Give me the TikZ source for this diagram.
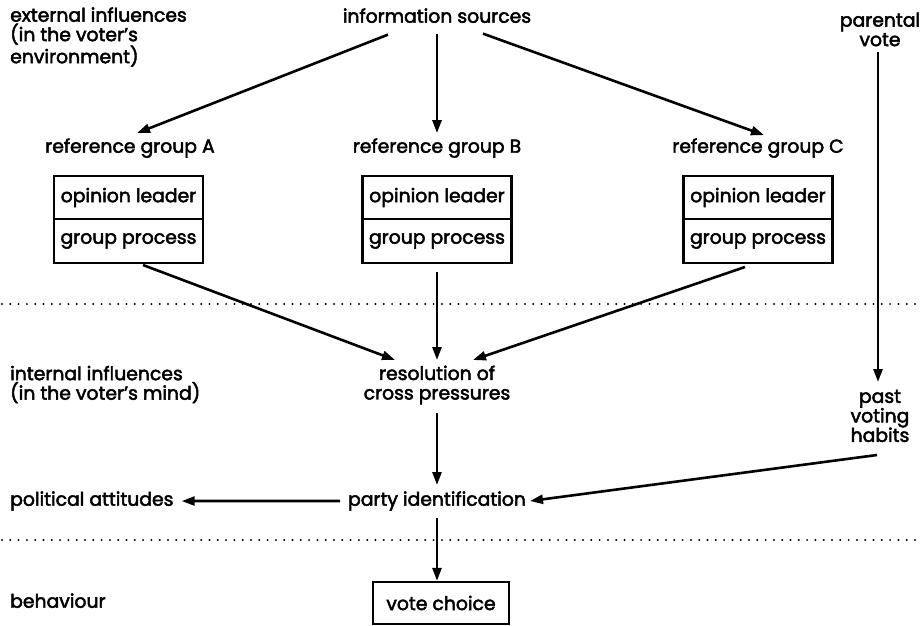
\documentclass[tikz,border=0pt]{standalone}
\usepackage{fontspec}
\setmainfont{Poppins}[FakeBold=2.5]
\usetikzlibrary{arrows.meta}
\begin{document}
\begin{tikzpicture}[x=1pt,y=-1pt,
  lbl/.style={inner sep=0pt,font=\fontsize{18.8}{19.5}\selectfont},
  one/.style={lbl,anchor=mid},
  multi/.style={lbl,align=center},
  multil/.style={lbl,align=left,anchor=west},
  cell/.style={lbl,draw,line width=2.2pt,minimum width=149pt,minimum height=43.5pt},
  arr/.style={line width=2.6pt,-{Triangle[length=13pt,width=9pt]}},
  sep/.style={line width=2.2pt,line cap=round,dash pattern=on 0pt off 8.3pt}
]
\useasboundingbox (0,0) rectangle (922,626);
\fill[white] (0,0) rectangle (922,626);

% labels
\node[one] (info) at (437,20) {information sources};
\node[multil] (ext) at (10,37) {external influences\\(in the voter's\\environment)};
\node[multi] (par) at (880,29.5) {parental\\vote};
\node[one] (refA) at (130,150) {reference group A};
\node[one] (refB) at (437,150) {reference group B};
\node[one] (refC) at (758,150) {reference group C};

% group boxes
\node[cell] (opA) at (128.5,197.5) {opinion leader};
\node[cell] (gpA) at (128.5,241) {group process};
\node[cell] (opB) at (437,197.5) {opinion leader};
\node[cell] (gpB) at (437,241) {group process};
\node[cell] (opC) at (758,197.5) {opinion leader};
\node[cell] (gpC) at (758,241) {group process};

\node[multil] (int) at (10,384.5) {internal influences\\(in the voter's mind)};
\node[multi] (res) at (437,385) {resolution of\\cross pressures};
\node[multi] (past) at (880,416) {past\\voting\\habits};
\node[one] (party) at (437,503) {party identification};
\node[one,anchor=mid west] (pol) at (10,503) {political attitudes};
\node[one,anchor=mid west] (beh) at (10,605) {behaviour};
\node[lbl,draw,line width=2.2pt,minimum width=136pt,minimum height=42pt] (vote) at (441,603) {vote choice};

% separators
\coordinate (s1l) at (2,304);
\coordinate (s1r) at (922,304);
\coordinate (s2l) at (2,540);
\coordinate (s2r) at (922,540);
\draw[sep] (s1l) -- (s1r);
\draw[sep] (s2l) -- (s2r);

% connectors
\draw[arr] ([shift={(-49,19)}]info.center) -- ([shift={(7,-15)}]refA.center);
\draw[arr] ([shift={(0,18)}]info.center) -- ([shift={(0,-15)}]refB.center);
\draw[arr] ([shift={(46,18)}]info.center) -- ([shift={(6,-13)}]refC.center);

\draw[arr] ([shift={(14.5,24)}]gpA.center) -- ([shift={(-42,-25)}]res.center);
\draw[arr] ([shift={(0,31)}]gpB.center) -- ([shift={(0,-25)}]res.center);
\draw[arr] ([shift={(-13,26)}]gpC.center) -- ([shift={(36,-25)}]res.center);

\draw[arr] ([shift={(-2,22.5)}]par.center) -- ([shift={(-2,-34)}]past.center);
\draw[arr] ([shift={(-3,39)}]past.center) -- ([shift={(93,0)}]party.center);
\draw[arr] ([shift={(0,28)}]res.center) -- ([shift={(0,-16)}]party.center);
\draw[arr] ([shift={(-97,0)}]party.center) -- ([xshift=8pt]pol.east);
\draw[arr] ([shift={(0,17)}]party.center) -- ([xshift=-4pt]vote.north);
\end{tikzpicture}
\end{document}
